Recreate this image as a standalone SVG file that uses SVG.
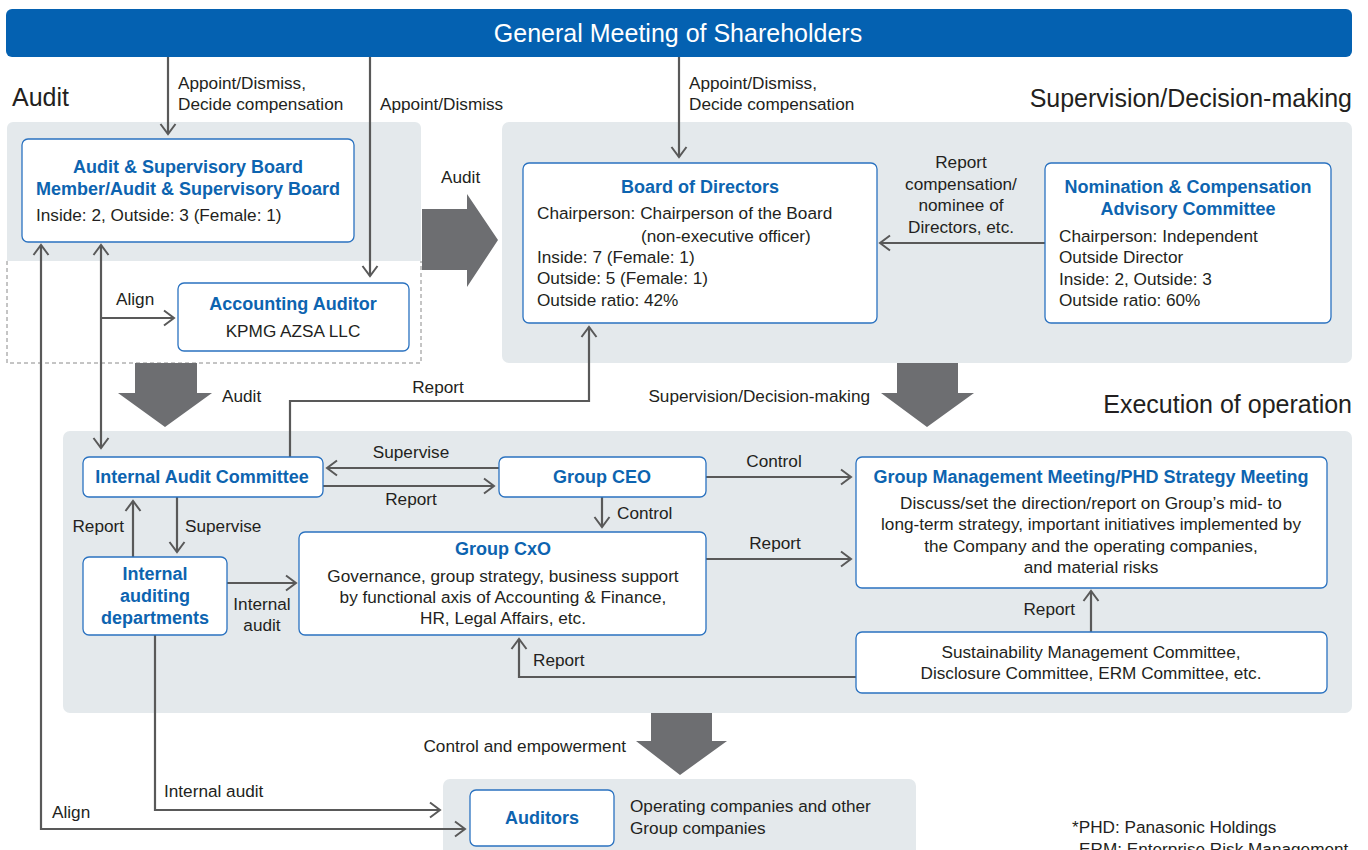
<svg xmlns="http://www.w3.org/2000/svg" width="1368" height="850" viewBox="0 0 1368 850">
<defs>
<marker id="ah" markerUnits="userSpaceOnUse" markerWidth="14" markerHeight="18" refX="11" refY="9" orient="auto-start-reverse">
<path d="M1,1.5 L11,9 L1,16.5" fill="none" stroke="#595959" stroke-width="2"/>
</marker>
<style>
text{font-family:"Liberation Sans",Arial,Helvetica,sans-serif;font-size:17.2px;fill:#231f20}
.h{font-weight:bold;font-size:18px;fill:#0d64b0}
.c{text-anchor:middle}
.sec{font-size:25px}
.box{fill:#fff;stroke:#2a72c0;stroke-width:1.3}
.panel{fill:#e4e9ec}
.ln{fill:none;stroke:#595959;stroke-width:2.2}
.big{fill:#6d6e71}
</style>
</defs>
<rect width="1368" height="850" fill="#fff"/>

<g id="panels">
<path class="panel" d="M7,128 a6,6 0 0 1 6,-6 H415 a6,6 0 0 1 6,6 V261 H7 Z"/>
<path d="M7,261 V363 H421 V261" fill="none" stroke="#8a8a8a" stroke-width="1" stroke-dasharray="4,3"/>
<rect class="panel" x="502" y="122" width="850" height="241" rx="7"/>
<rect class="panel" x="63" y="431" width="1289" height="282" rx="7"/>
<rect class="panel" x="443" y="779" width="473" height="90" rx="7"/>
</g>

<g id="top-bar">
<rect x="6" y="9" width="1346" height="48" rx="6" fill="#0461b1"/>
<text x="678" y="42" class="c" style="font-size:25px;fill:#fff">General Meeting of Shareholders</text>
</g>

<g id="section-labels">
<text x="12" y="106" class="sec">Audit</text>
<text x="1352" y="107" class="sec" text-anchor="end">Supervision/Decision-making</text>
<text x="1352" y="413" class="sec" text-anchor="end">Execution of operation</text>
</g>

<g id="big-arrows">
<polygon class="big" points="422,209 467,209 467,194 498,240 467,287 467,270 422,270"/>
<polygon class="big" points="135,363 197,363 197,393 212,393 165,427 118,393 135,393"/>
<polygon class="big" points="897,363 958,363 958,393 974,393 927,427 881,393 897,393"/>
<polygon class="big" points="651,713 712,713 712,741 727,741 680,775 636,741 651,741"/>
<text x="441" y="183">Audit</text>
<text x="222" y="402">Audit</text>
<text x="870" y="402" text-anchor="end">Supervision/Decision-making</text>
<text x="626" y="752" text-anchor="end">Control and empowerment</text>
</g>

<g id="connectors">
<line class="ln" x1="168" y1="57" x2="168" y2="134" marker-end="url(#ah)"/>
<line class="ln" x1="370" y1="57" x2="370" y2="276" marker-end="url(#ah)"/>
<line class="ln" x1="679" y1="57" x2="679" y2="157" marker-end="url(#ah)"/>
<line class="ln" x1="1045" y1="243" x2="880" y2="243" marker-end="url(#ah)"/>
<line class="ln" x1="101" y1="245" x2="101" y2="448" marker-start="url(#ah)" marker-end="url(#ah)"/>
<line class="ln" x1="101" y1="318" x2="174" y2="318" marker-end="url(#ah)"/>
<polyline class="ln" points="41,245 41,829 465,829" marker-start="url(#ah)" marker-end="url(#ah)"/>
<polyline class="ln" points="290,457 290,401 589,401 589,327" marker-end="url(#ah)"/>
<line class="ln" x1="499" y1="468" x2="327" y2="468" marker-end="url(#ah)"/>
<line class="ln" x1="323" y1="486" x2="494" y2="486" marker-end="url(#ah)"/>
<line class="ln" x1="602" y1="497" x2="602" y2="527" marker-end="url(#ah)"/>
<line class="ln" x1="177" y1="497" x2="177" y2="552" marker-end="url(#ah)"/>
<line class="ln" x1="133" y1="557" x2="133" y2="501" marker-end="url(#ah)"/>
<line class="ln" x1="227" y1="583" x2="296" y2="583" marker-end="url(#ah)"/>
<line class="ln" x1="706" y1="477" x2="851" y2="477" marker-end="url(#ah)"/>
<line class="ln" x1="706" y1="559" x2="851" y2="559" marker-end="url(#ah)"/>
<line class="ln" x1="1091" y1="632" x2="1091" y2="591" marker-end="url(#ah)"/>
<polyline class="ln" points="856,677 519,677 519,639" marker-end="url(#ah)"/>
<polyline class="ln" points="155,635 155,810 440,810" marker-end="url(#ah)"/>
</g>

<g id="connector-labels">
<text x="178" y="89">Appoint/Dismiss,</text>
<text x="178" y="110">Decide compensation</text>
<text x="380" y="110">Appoint/Dismiss</text>
<text x="689" y="89">Appoint/Dismiss,</text>
<text x="689" y="110">Decide compensation</text>
<text x="961" y="168" class="c">Report</text>
<text x="961" y="190" class="c">compensation/</text>
<text x="961" y="211" class="c">nominee of</text>
<text x="961" y="233" class="c">Directors, etc.</text>
<text x="116" y="305">Align</text>
<text x="438" y="393" class="c">Report</text>
<text x="411" y="458" class="c">Supervise</text>
<text x="411" y="505" class="c">Report</text>
<text x="617" y="519">Control</text>
<text x="185" y="532">Supervise</text>
<text x="124" y="532" text-anchor="end">Report</text>
<text x="262" y="610" class="c">Internal</text>
<text x="262" y="631" class="c">audit</text>
<text x="774" y="467" class="c">Control</text>
<text x="775" y="549" class="c">Report</text>
<text x="1075" y="615" text-anchor="end">Report</text>
<text x="533" y="666">Report</text>
<text x="164" y="797">Internal audit</text>
<text x="52" y="818">Align</text>
</g>

<g id="audit-board">
<rect class="box" x="22" y="139" width="332" height="103" rx="6"/>
<text x="188" y="173" class="h c">Audit &amp; Supervisory Board</text>
<text x="188" y="195" class="h c">Member/Audit &amp; Supervisory Board</text>
<text x="36" y="221">Inside: 2, Outside: 3 (Female: 1)</text>
</g>

<g id="accounting-auditor">
<rect class="box" x="178" y="283" width="231" height="68" rx="6"/>
<text x="293" y="310" class="h c">Accounting Auditor</text>
<text x="293" y="337" class="c">KPMG AZSA LLC</text>
</g>

<g id="board-of-directors">
<rect class="box" x="523" y="163" width="354" height="160" rx="6"/>
<text x="700" y="193" class="h c">Board of Directors</text>
<text x="537" y="219">Chairperson: Chairperson of the Board</text>
<text x="641" y="242">(non-executive officer)</text>
<text x="537" y="263">Inside: 7 (Female: 1)</text>
<text x="537" y="284">Outside: 5 (Female: 1)</text>
<text x="537" y="306">Outside ratio: 42%</text>
</g>

<g id="nomination-committee">
<rect class="box" x="1045" y="163" width="286" height="160" rx="6"/>
<text x="1188" y="193" class="h c">Nomination &amp; Compensation</text>
<text x="1188" y="215" class="h c">Advisory Committee</text>
<text x="1059" y="242">Chairperson: Independent</text>
<text x="1059" y="263">Outside Director</text>
<text x="1059" y="285">Inside: 2, Outside: 3</text>
<text x="1059" y="306">Outside ratio: 60%</text>
</g>

<g id="internal-audit-committee">
<rect class="box" x="83" y="457" width="240" height="40" rx="6"/>
<text x="202" y="483" class="h c">Internal Audit Committee</text>
</g>

<g id="group-ceo">
<rect class="box" x="499" y="457" width="207" height="40" rx="6"/>
<text x="602" y="483" class="h c">Group CEO</text>
</g>

<g id="internal-auditing-departments">
<rect class="box" x="83" y="557" width="144" height="78" rx="6"/>
<text x="155" y="580" class="h c">Internal</text>
<text x="155" y="602" class="h c">auditing</text>
<text x="155" y="624" class="h c">departments</text>
</g>

<g id="group-cxo">
<rect class="box" x="299" y="532" width="407" height="103" rx="6"/>
<text x="503" y="555" class="h c">Group CxO</text>
<text x="503" y="582" class="c">Governance, group strategy, business support</text>
<text x="503" y="603" class="c">by functional axis of Accounting &amp; Finance,</text>
<text x="503" y="624" class="c">HR, Legal Affairs, etc.</text>
</g>

<g id="group-management-meeting">
<rect class="box" x="856" y="457" width="471" height="131" rx="6"/>
<text x="1091" y="483" class="h c">Group Management Meeting/PHD Strategy Meeting</text>
<text x="1091" y="509" class="c">Discuss/set the direction/report on Group’s mid- to</text>
<text x="1091" y="530" class="c">long-term strategy, important initiatives implemented by</text>
<text x="1091" y="552" class="c">the Company and the operating companies,</text>
<text x="1091" y="573" class="c">and material risks</text>
</g>

<g id="sustainability-committees">
<rect class="box" x="856" y="632" width="471" height="61" rx="6"/>
<text x="1091" y="658" class="c">Sustainability Management Committee,</text>
<text x="1091" y="679" class="c">Disclosure Committee, ERM Committee, etc.</text>
</g>

<g id="auditors">
<rect class="box" x="470" y="790" width="144" height="56" rx="6"/>
<text x="542" y="824" class="h c">Auditors</text>
<text x="630" y="812">Operating companies and other</text>
<text x="630" y="834">Group companies</text>
</g>

<g id="footnotes">
<text x="1072" y="833">*PHD: Panasonic Holdings</text>
<text x="1079" y="855">ERM: Enterprise Risk Management</text>
</g>
</svg>
